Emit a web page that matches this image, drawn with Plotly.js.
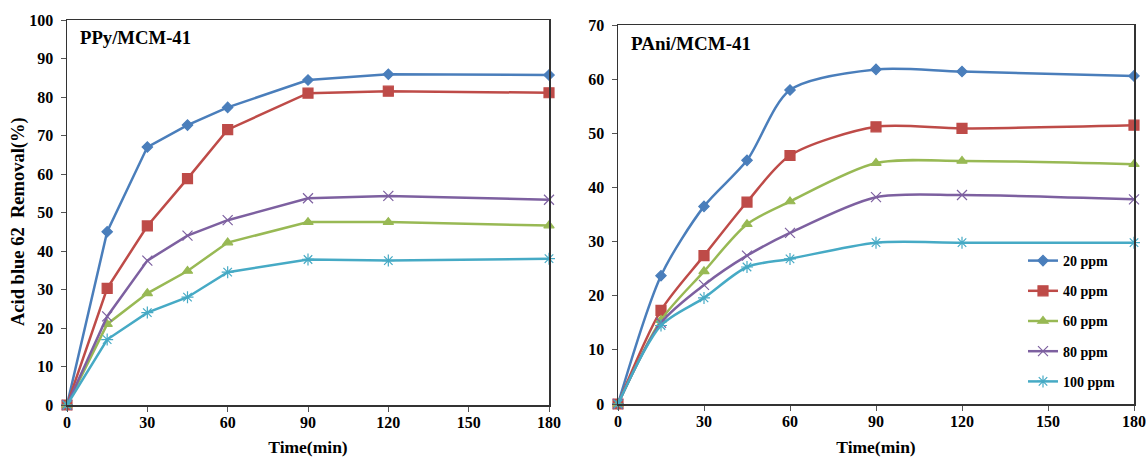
<!DOCTYPE html>
<html><head><meta charset="utf-8">
<script src="https://cdn.plot.ly/plotly-3.0.1.min.js"></script>
<style>body{margin:0;padding:0;background:#fff}#c{width:1146px;height:457px}</style>
</head><body><div id="c"></div>
<script>
const time = [0, 15, 30, 45, 60, 90, 120, 180];
const seriesNames = ["20 ppm", "40 ppm", "60 ppm", "80 ppm", "100 ppm"];
// PPy/MCM-41
const ppy20 = [0, 45.0, 67.0, 72.7, 77.3, 84.4, 85.9, 85.7];
const ppy40 = [0, 30.3, 46.5, 58.8, 71.5, 81.0, 81.5, 81.1];
const ppy60 = [0, 21.0, 29.0, 34.8, 42.2, 47.5, 47.5, 46.6];
const ppy80 = [0, 23.0, 37.5, 44.0, 48.0, 53.7, 54.3, 53.3];
const ppy100 = [0, 17.0, 24.0, 28.0, 34.5, 37.8, 37.5, 38.0];
// PAni/MCM-41
const pani20 = [0, 23.7, 36.5, 45.0, 58.0, 61.8, 61.4, 60.6];
const pani40 = [0, 17.3, 27.4, 37.3, 45.9, 51.2, 50.9, 51.5];
const pani60 = [0, 15.5, 24.5, 33.2, 37.4, 44.5, 44.9, 44.3];
const pani80 = [0, 15.0, 22.0, 27.4, 31.6, 38.2, 38.6, 37.8];
const pani100 = [0, 14.5, 19.6, 25.3, 26.8, 29.8, 29.8, 29.8];
const xTicks = [0, 30, 60, 90, 120, 150, 180];

const colors = ["#4a7ebb", "#be4b48", "#98b954", "#7d60a0", "#46aac5"];
const symbols = ["diamond", "square", "triangle-up", "x-thin-open", "asterisk-open"];
const msizes = [8, 10, 9, 10, 10];
const ppy = [ppy20, ppy40, ppy60, ppy80, ppy100];
const pani = [pani20, pani40, pani60, pani80, pani100];

const serif = "Liberation Serif, Times New Roman, serif";
const traces = [];
ppy.forEach((ys, i) => traces.push({
  x: time, y: ys, xaxis: "x", yaxis: "y", type: "scatter", mode: "lines+markers",
  name: seriesNames[i], showlegend: false, cliponaxis: false,
  line: {color: colors[i], width: 2.5},
  marker: {symbol: symbols[i], size: msizes[i], color: colors[i], line: {color: colors[i], width: 1.2}}
}));
pani.forEach((ys, i) => traces.push({
  x: time, y: ys, xaxis: "x2", yaxis: "y2", type: "scatter", mode: "lines+markers",
  name: seriesNames[i], showlegend: true, legendgroup: "g" + i, cliponaxis: false,
  line: {color: colors[i], width: 2.5, shape: "spline", smoothing: 0.8},
  marker: {symbol: symbols[i], size: msizes[i], color: colors[i], line: {color: colors[i], width: 1.2}}
}));

const tickFont = {family: serif, size: 16, color: "#000", weight: "bold"};
const titleFont = {family: serif, size: 17.5, color: "#000", weight: "bold"};
const xcommon = {range: [0, 180], tickvals: xTicks, ticks: "outside", ticklen: 5,
  tickcolor: "#555", showline: true, linecolor: "#333", linewidth: 1.5, mirror: true, showgrid: false,
  zeroline: false, tickfont: tickFont, ticklabelstandoff: -3, title: {text: "Time(min)", font: titleFont, standoff: 12}};
const ycommon = {ticks: "outside", ticklen: 5, tickcolor: "#555",
  showline: true, linecolor: "#333", linewidth: 1.5, mirror: true, showgrid: false, zeroline: false,
  tickfont: tickFont, ticklabelstandoff: 4};
const layout = {
  width: 1146, height: 457, margin: {l: 0, r: 0, t: 0, b: 0},
  paper_bgcolor: "#fff", plot_bgcolor: "#fff",
  xaxis: Object.assign({}, xcommon, {domain: [67/1146, 549/1146], anchor: "y"}),
  yaxis: Object.assign({}, ycommon, {domain: [52/457, 437/457], range: [0, 100], dtick: 10, anchor: "x"}),
  xaxis2: Object.assign({}, xcommon, {domain: [618/1146, 1134/1146], anchor: "y2"}),
  yaxis2: Object.assign({}, ycommon, {domain: [53/457, 432/457], range: [0, 70], dtick: 10, anchor: "x2"}),
  legend: {x: 1023/1146, y: 1 - 245/457, xanchor: "left", yanchor: "top", bgcolor: "rgba(0,0,0,0)",
    font: {family: serif, size: 14, color: "#000", weight: "bold"},
    tracegroupgap: 9, itemwidth: 30},
  annotations: [
    {text: "Acid blue 62  Removal(%)", xref: "paper", yref: "paper", x: 18/1146, y: 1 - 222/457,
      xanchor: "center", yanchor: "middle", textangle: -90, showarrow: false,
      font: {family: serif, size: 18.5, color: "#000", weight: "bold"}},
    {text: "PPy/MCM-41", xref: "paper", yref: "paper", x: 78/1146, y: 1 - 38/457, xanchor: "left", yanchor: "middle",
      showarrow: false, font: {family: serif, size: 18.7, color: "#000", weight: "bold"}},
    {text: "PAni/MCM-41", xref: "paper", yref: "paper", x: 629/1146, y: 1 - 43/457, xanchor: "left", yanchor: "middle",
      showarrow: false, font: {family: serif, size: 19, color: "#000", weight: "bold"}}
  ]
};
Plotly.newPlot("c", traces, layout, {displayModeBar: false, staticPlot: true});
</script></body></html>
